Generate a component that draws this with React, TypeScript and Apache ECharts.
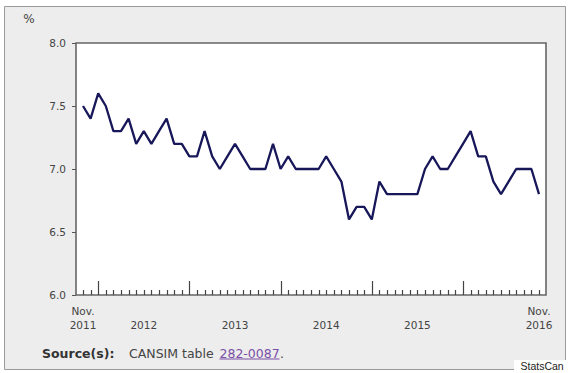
import React, { useEffect, useRef } from "react";
import * as echarts from "echarts";

const START_YEAR = 2011;
const START_MONTH = 10; // November (0-based)
const MONTH_NAMES = ["Jan", "Feb", "Mar", "Apr", "May", "Jun", "Jul", "Aug", "Sep", "Oct", "Nov", "Dec"];

// Monthly values, Nov. 2011 – Nov. 2016 (%)
const values: number[] = [
  7.5, 7.4,
  7.6, 7.5, 7.3, 7.3, 7.4, 7.2, 7.3, 7.2, 7.3, 7.4, 7.2, 7.2,
  7.1, 7.1, 7.3, 7.1, 7.0, 7.1, 7.2, 7.1, 7.0, 7.0, 7.0, 7.2,
  7.0, 7.1, 7.0, 7.0, 7.0, 7.0, 7.1, 7.0, 6.9, 6.6, 6.7, 6.7,
  6.6, 6.9, 6.8, 6.8, 6.8, 6.8, 6.8, 7.0, 7.1, 7.0, 7.0, 7.1,
  7.2, 7.3, 7.1, 7.1, 6.9, 6.8, 6.9, 7.0, 7.0, 7.0, 6.8,
];

const categories: string[] = values.map((_, i) => {
  const m = (START_MONTH + i) % 12;
  const y = START_YEAR + Math.floor((START_MONTH + i) / 12);
  return `${MONTH_NAMES[m]} ${y}`;
});

// x tick labels: category -> label text
const xLabelCats = ["Nov 2011", "Jul 2012", "Jul 2013", "Jul 2014", "Jul 2015", "Nov 2016"];
const xLabelTexts = ["Nov.\n2011", "\n2012", "\n2013", "\n2014", "\n2015", "Nov.\n2016"];

const Y_MIN = 6;
const Y_MAX = 8;
const yTicks = [6.0, 6.5, 7.0, 7.5, 8.0];

const LABEL_FONT = "DejaVu Sans, Verdana, sans-serif";

export default function App() {
  const ref = useRef<HTMLDivElement>(null);
  useEffect(() => {
    if (!ref.current) return;
    const chart = echarts.init(ref.current, undefined, { renderer: "svg" });
    chart.setOption({
      animation: false,
      backgroundColor: "#ffffff",
      graphic: [
        {
          type: "rect",
          z: -10,
          silent: true,
          shape: { x: 4.5, y: 6.5, width: 561, height: 363 },
          style: { fill: "#ededed", stroke: "#9a9a9a", lineWidth: 1 },
        },
        {
          type: "text", x: 29, y: 19,
          style: { text: "%", font: `12px ${LABEL_FONT}`, fill: "#444", align: "center", verticalAlign: "middle" },
        },
        {
          type: "text", x: 42, y: 353,
          style: { text: "Source(s):", font: `bold 12.5px ${LABEL_FONT}`, fill: "#333", verticalAlign: "middle" },
        },
        {
          type: "text", x: 129, y: 353,
          style: { text: "CANSIM table ", font: `12.5px ${LABEL_FONT}`, fill: "#444", verticalAlign: "middle" },
        },
        {
          type: "text", x: 219.5, y: 353,
          style: { text: "282-0087", font: `12.5px ${LABEL_FONT}`, fill: "#7a4fa6", verticalAlign: "middle" },
        },
        {
          type: "line",
          shape: { x1: 219.5, y1: 359, x2: 279.5, y2: 359 },
          style: { stroke: "#7a4fa6", lineWidth: 1 },
        },
        {
          type: "text", x: 280, y: 353,
          style: { text: ".", font: `12.5px ${LABEL_FONT}`, fill: "#444", verticalAlign: "middle" },
        },
        {
          type: "rect",
          shape: { x: 514, y: 360, width: 56, height: 13 },
          style: { fill: "#ffffff" },
        },
        {
          type: "text", x: 520.5, y: 366,
          style: { text: "StatsCan", font: "10.5px Liberation Sans, Arial, sans-serif", fill: "#222", verticalAlign: "middle" },
        },
      ],
      grid: [
        {
          left: 76, top: 43, width: 470, height: 252,
          show: true, backgroundColor: "#ffffff", borderColor: "#666666", borderWidth: 1.6,
        },
        { left: 83, top: 43, width: 456, height: 252 },
      ],
      xAxis: [
        { gridIndex: 0, type: "value", min: 0, max: 1, show: false },
        {
          gridIndex: 1,
          type: "category",
          data: categories,
          boundaryGap: false,
          position: "bottom",
          axisLine: { show: false },
          axisTick: { show: false },
          axisLabel: {
            show: true,
            interval: (_i: number, v: string) => xLabelCats.indexOf(v) >= 0,
            formatter: (v: string) => {
              const k = xLabelCats.indexOf(v);
              return k >= 0 ? xLabelTexts[k] : "";
            },
            margin: 9,
            color: "#444",
            fontFamily: LABEL_FONT,
            fontSize: 10.5,
            lineHeight: 14,
            verticalAlign: "top",
          },
          splitLine: { show: false },
        },
      ],
      yAxis: [
        {
          gridIndex: 0,
          type: "value",
          min: Y_MIN, max: Y_MAX, interval: 0.5,
          axisLine: { show: false },
          axisTick: { show: true, length: 4, lineStyle: { color: "#555" } },
          axisLabel: {
            margin: 10, color: "#444", fontFamily: LABEL_FONT, fontSize: 10.5,
            formatter: (v: number) => (yTicks.indexOf(v) >= 0 ? v.toFixed(1) : ""),
          },
          splitLine: { show: false },
        },
        { gridIndex: 1, type: "value", min: Y_MIN, max: Y_MAX, show: false },
      ],
      series: [
        {
          // monthly tick marks (long ones at January)
          type: "custom",
          xAxisIndex: 1,
          yAxisIndex: 1,
          silent: true,
          clip: false,
          z: 5,
          data: categories.map((_, i) => [i, Y_MIN]),
          renderItem: (_params: any, api: any) => {
            const idx = api.value(0);
            const p = api.coord([idx, Y_MIN]);
            const len = categories[idx].startsWith("Jan") ? 14 : 5;
            const x = Math.round(p[0]) + 0.5;
            return {
              type: "line",
              shape: { x1: x, y1: p[1], x2: x, y2: p[1] - len },
              style: { stroke: "#444", lineWidth: 1.2 },
            };
          },
        },
        {
          type: "line",
          xAxisIndex: 1,
          yAxisIndex: 1,
          data: values,
          symbol: "none",
          lineStyle: { color: "#17175a", width: 2.3 },
        },
      ],
    });
    return () => chart.dispose();
  }, []);
  return <div ref={ref} style={{ position: "fixed", left: 0, top: 0, width: 570, height: 373 }} />;
}
